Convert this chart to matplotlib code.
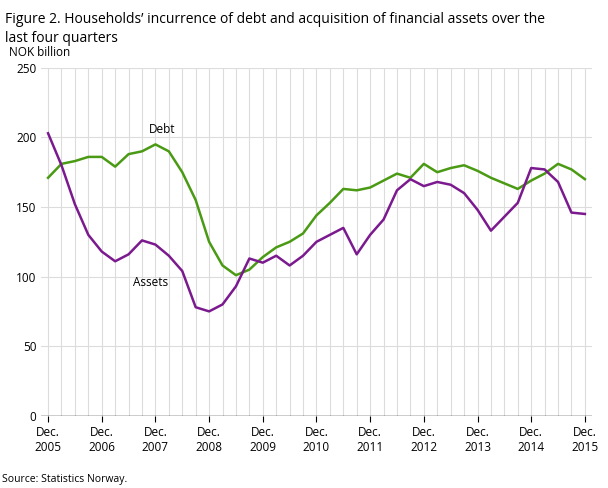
import matplotlib.pyplot as plt

plt.rcParams['font.family'] = ['Open Sans', 'DejaVu Sans']

debt = [171, 181, 183, 186, 186, 179, 188, 190, 195, 190, 175, 155, 125, 108, 101, 105,
        114, 121, 125, 131, 144, 153, 163, 162, 164, 169, 174, 171, 181, 175, 178, 180,
        176, 171, 167, 163, 169, 174, 181, 177, 170]
assets = [203, 180, 152, 130, 118, 111, 116, 126, 123, 115, 104, 78, 75, 80, 93, 113,
          110, 115, 108, 115, 125, 130, 135, 116, 130, 141, 162, 170, 165, 168, 166, 160,
          148, 133, 143, 153, 178, 177, 168, 146, 145]
years = [str(y) for y in range(2005, 2016)]

fig = plt.figure(figsize=(6.08, 4.88), dpi=100)
ax = fig.add_axes([0.068, 0.148, 0.905, 0.713])
x = list(range(len(debt)))

for i in x:
    ax.axvline(i, color='#dcdcdc', lw=0.8, zorder=0)
for v in [50, 100, 150, 200, 250]:
    ax.axhline(v, color='#dcdcdc', lw=0.8, zorder=0)
ax.axhline(0, color='black', lw=1, zorder=1)

ax.plot(x, debt, color='#4a9a14', lw=1.8)
ax.plot(x, assets, color='#7b1a8e', lw=1.8)

ax.set_xlim(-0.5, 40.5)
ax.set_ylim(0, 250)
ax.set_yticks([0, 50, 100, 150, 200, 250])
ax.set_xticks(range(0, 41, 4))
ax.set_xticklabels(['Dec.\n' + y for y in years], fontsize=8.5)
ax.tick_params(axis='y', length=0, labelsize=8.5)
ax.tick_params(axis='x', length=4, color='black')
for s in ax.spines.values():
    s.set_visible(False)

ax.text(7.5, 203, 'Debt', fontsize=8.5)
ax.text(6.3, 93, 'Assets', fontsize=8.5)

fig.text(0.008, 0.975, "Figure 2. Households\u2019 incurrence of debt and acquisition of financial assets over the\nlast four quarters",
         fontsize=10, va='top', linespacing=1.3)
fig.text(0.015, 0.885, 'NOK billion', fontsize=8.5)
fig.text(0.003, 0.012, 'Source: Statistics Norway.', fontsize=7.5)

fig.savefig('out.png', dpi=100)
